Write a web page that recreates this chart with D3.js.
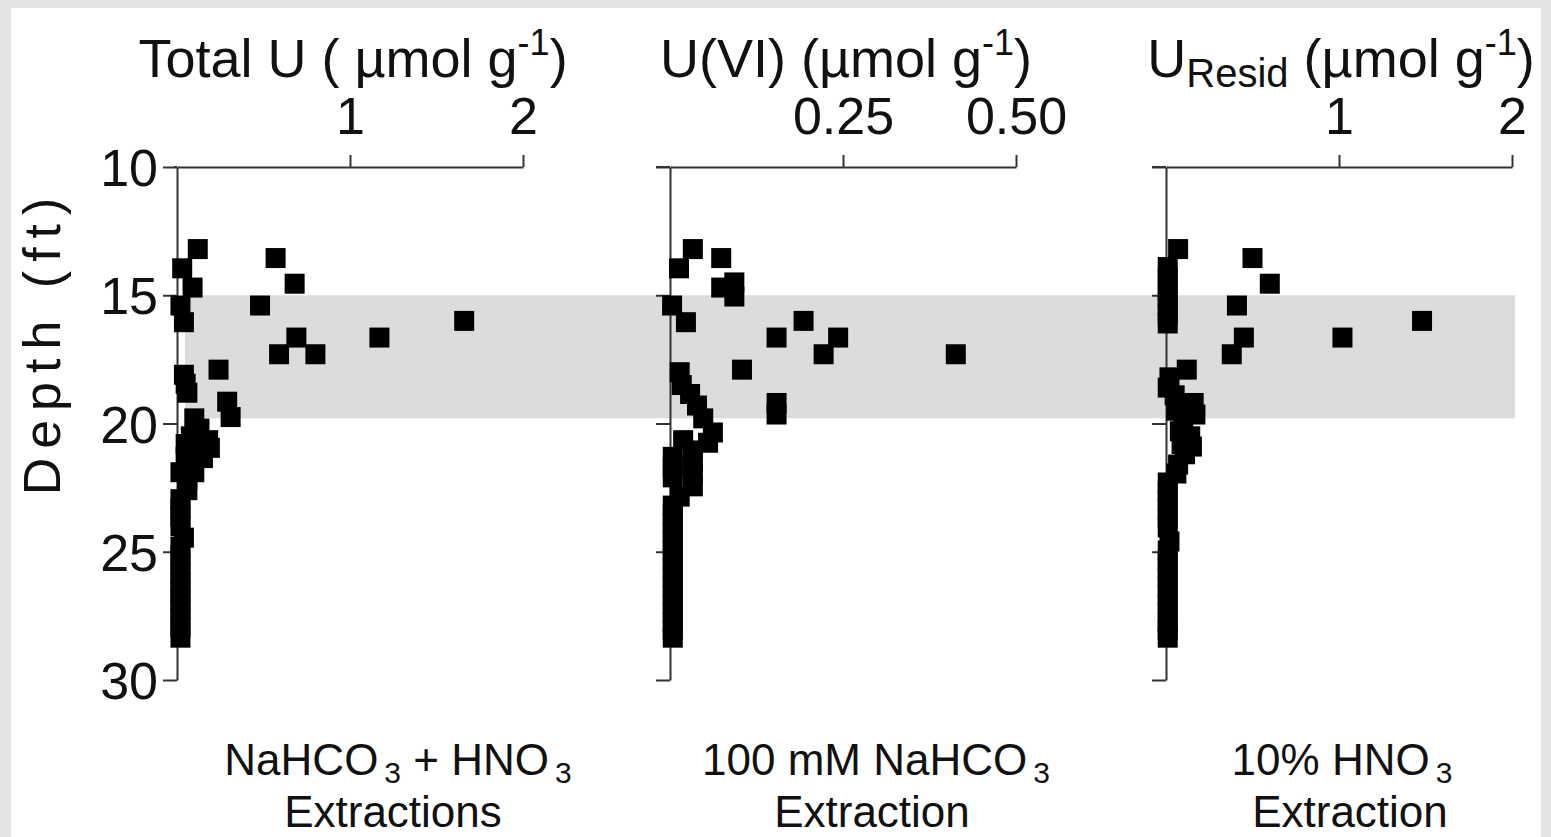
<!DOCTYPE html>
<html>
<head>
<meta charset="utf-8">
<script src="https://cdn.jsdelivr.net/npm/d3@7"></script>
<style>
  body { margin: 0; background: #e4e4e4; }
  svg text { font-family: "Liberation Sans", Arial, sans-serif; fill: #111; }
  .axis path, .axis line { stroke: #333; stroke-width: 2; }
</style>
</head>
<body>
<svg id="chart" width="1551" height="837"></svg>
<script>
// Depth axis (ft)
const depthTicks = [10, 15, 20, 25, 30];
// shaded depth interval
const bandDepth = [15, 19.8];

// [value (umol/g), depth (ft)] per panel
const totalU = [
  [0.12, 13.2], [0.57, 13.55], [0.03, 13.95], [0.09, 14.7], [0.68, 14.55],
  [0.48, 15.4], [0.02, 15.4], [0.04, 16.05], [1.66, 16.0], [0.69, 16.65],
  [1.17, 16.65], [0.59, 17.3], [0.80, 17.3], [0.24, 17.9], [0.04, 18.1],
  [0.05, 18.45], [0.06, 18.8], [0.29, 19.15], [0.31, 19.75], [0.10, 19.8],
  [0.13, 20.2], [0.18, 20.65], [0.19, 20.95], [0.15, 21.35], [0.09, 21.65],
  [0.05, 20.8], [0.05, 21.3], [0.06, 22.2], [0.06, 22.6], [0.02, 21.9],
  [0.12, 21.0], [0.10, 21.9], [0.08, 20.5],
  [0.02, 22.95], [0.02, 23.3], [0.02, 23.65], [0.02, 24.0], [0.04, 24.45],
  [0.02, 24.8], [0.02, 25.15], [0.02, 25.5], [0.02, 25.85], [0.02, 26.2],
  [0.02, 26.55], [0.02, 26.9], [0.02, 27.25], [0.02, 27.6], [0.02, 27.95],
  [0.02, 28.35]
];
const uVI = [
  [0.033, 13.2], [0.074, 13.55], [0.013, 13.95], [0.074, 14.7], [0.093, 14.5],
  [0.093, 15.05], [0.003, 15.4], [0.023, 16.05], [0.193, 16.0], [0.154, 16.65],
  [0.243, 16.65], [0.222, 17.3], [0.413, 17.3], [0.104, 17.9], [0.014, 18.0],
  [0.017, 18.5], [0.029, 18.85], [0.154, 19.2], [0.154, 19.65], [0.039, 19.3],
  [0.048, 19.8], [0.062, 20.35], [0.055, 20.75], [0.019, 20.65], [0.033, 21.05],
  [0.033, 21.5], [0.033, 21.95], [0.033, 22.45], [0.014, 22.85],
  [0.004, 21.3], [0.004, 21.7], [0.004, 22.1], [0.004, 23.2], [0.004, 23.55],
  [0.004, 23.9], [0.004, 24.25], [0.004, 24.6], [0.004, 24.95], [0.004, 25.3],
  [0.004, 25.65], [0.004, 26.0], [0.004, 26.35], [0.004, 26.7], [0.004, 27.05],
  [0.004, 27.4], [0.004, 27.75], [0.004, 28.05], [0.004, 28.35]
];
const uResid = [
  [0.07, 13.2], [0.50, 13.55], [0.60, 14.55], [0.41, 15.4], [1.48, 16.0],
  [1.02, 16.65], [0.45, 16.65], [0.38, 17.3], [0.12, 17.9],
  [0.01, 13.9], [0.01, 14.3], [0.01, 14.7], [0.01, 15.05], [0.01, 15.4],
  [0.01, 15.75], [0.01, 16.1],
  [0.02, 18.2], [0.01, 18.6], [0.05, 18.9], [0.16, 19.2], [0.17, 19.65],
  [0.10, 20.05], [0.14, 20.5], [0.15, 20.9], [0.11, 21.2], [0.07, 21.6],
  [0.06, 21.95], [0.06, 19.5], [0.08, 20.3], [0.09, 20.8],
  [0.01, 22.3], [0.01, 22.65], [0.01, 23.0], [0.01, 23.35], [0.01, 23.7],
  [0.01, 24.05], [0.02, 24.6], [0.01, 24.95], [0.01, 25.3], [0.01, 25.65],
  [0.01, 26.0], [0.01, 26.35], [0.01, 26.7], [0.01, 27.05], [0.01, 27.4],
  [0.01, 27.75], [0.01, 28.05], [0.01, 28.35]
];

const panelData = [totalU, uVI, uResid];
const xDomains = [[0, 2], [0, 0.5], [0, 2]];
const xTicks = [[1, 2], [0.25, 0.5], [1, 2]];
const xFormats = [d3.format("d"), d3.format(".2f"), d3.format("d")];
const bottomLines = [
  [["NaHCO", "3", " + HNO", "3"], "Extractions"],
  [["100 mM NaHCO", "3"], "Extraction"],
  [["10% HNO", "3"], "Extraction"]
];

const svg = d3.select("#chart");
svg.append("rect").attr("x", 11).attr("y", 8)
  .attr("width", 1530).attr("height", 837).attr("fill", "#fff");

const origins = [177, 670, 1166];
const axisW = 346;
const y = d3.scaleLinear().domain([10, 30]).range([167, 680]);

const xScales = origins.map((o, i) =>
  d3.scaleLinear().domain(xDomains[i]).range([o, o + axisW]));

// shaded band
svg.append("rect")
  .attr("x", 185).attr("y", y(bandDepth[0]))
  .attr("width", 1515 - 185)
  .attr("height", y(bandDepth[1]) - y(bandDepth[0]))
  .attr("fill", "#dcdcdc");

origins.forEach((o, i) => {
  let x = xScales[i];
  let g = svg.append("g");

  let yAxis = d3.axisLeft(y).tickValues(depthTicks).tickSize(14).tickSizeOuter(0)
    .tickFormat(i == 0 ? d3.format("d") : "");
  let ya = g.append("g").attr("class", "axis")
    .attr("transform", `translate(${o},0)`).call(yAxis);
  ya.selectAll("text").attr("font-size", 52).attr("x", -19).attr("dy", "0.36em");

  let xAxis = d3.axisTop(x).tickValues(xTicks[i]).tickSize(12).tickSizeOuter(0)
    .tickFormat(xFormats[i]);
  let xa = g.append("g").attr("class", "axis")
    .attr("transform", `translate(0,${y(10)})`).call(xAxis);
  xa.selectAll("text").attr("font-size", 52).attr("y", -33).attr("dy", 0);
  // short stub left of the origin
  xa.append("line").attr("x1", o - (i == 0 ? 3 : 14)).attr("x2", o)
    .attr("stroke", "#333").attr("stroke-width", 2);

  g.selectAll("rect.pt").data(panelData[i]).join("rect")
    .attr("class", "pt")
    .attr("x", d => x(d[0]) - 10)
    .attr("y", d => y(d[1]) - 10)
    .attr("width", 20).attr("height", 20)
    .attr("fill", "#000");
});

// titles
function title(cx, parts) {
  let t = svg.append("text").attr("x", cx).attr("y", 77)
    .attr("text-anchor", "middle").attr("font-size", 54);
  parts.forEach(p => {
    let s = t.append("tspan").text(p[0]);
    if (p[1]) s.attr("font-size", p[1]);
    if (p[2]) s.attr("dy", p[2]);
  });
}
title(origins[0] + 176, [["Total U ( \u00b5mol g"], ["-1", 36, -22], [")", null, 22]]);
title(origins[1] + 176, [["U(VI) (\u00b5mol g"], ["-1", 36, -22], [")", null, 22]]);
title(origins[2] + 175, [["U"], ["Resid", 40, 10], [" (\u00b5mol g", null, -10], ["-1", 36, -22], [")", null, 22]]);

// depth label
svg.append("text")
  .attr("transform", "translate(60,342) rotate(-90)")
  .attr("text-anchor", "middle").attr("font-size", 52)
  .attr("letter-spacing", 9)
  .text("Depth (ft)");

// bottom labels
const bottomCx = [[398, 393], [876, 872], [1342, 1350]];
bottomLines.forEach((b, i) => {
  let t = svg.append("text").attr("x", bottomCx[i][0]).attr("y", 775)
    .attr("text-anchor", "middle").attr("font-size", 44);
  b[0].forEach((s, k) => {
    if (k % 2 == 0) {
      t.append("tspan").text(s).attr("dy", k == 0 ? 0 : -8);
    } else {
      t.append("tspan").text(s).attr("font-size", 30).attr("dx", 6).attr("dy", 8);
    }
  });
  svg.append("text").attr("x", bottomCx[i][1]).attr("y", 827)
    .attr("text-anchor", "middle").attr("font-size", 44)
    .text(b[1]);
});
</script>
</body>
</html>
